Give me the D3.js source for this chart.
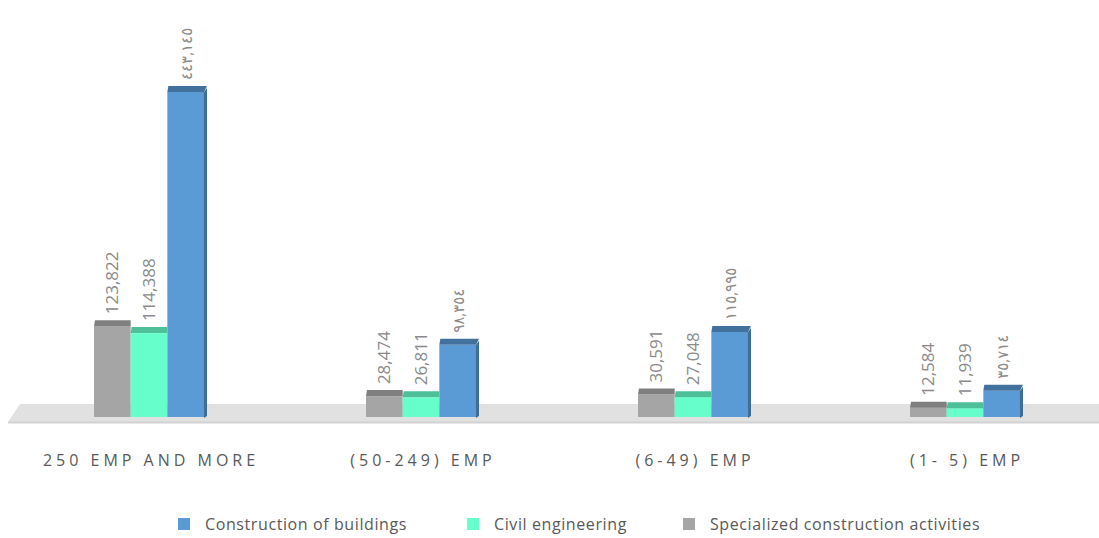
<!DOCTYPE html>
<html>
<head>
<meta charset="utf-8">
<script src="https://cdn.jsdelivr.net/npm/d3@7"></script>
<style>
  body { margin: 0; background: #fff; }
  svg { display: block; font-family: "Open Sans", "DejaVu Sans", sans-serif; }
</style>
</head>
<body>
<div id="chart"></div>
<script>
// chart data
const categories = ["250 EMP AND MORE", "(50-249) EMP", "(6-49) EMP", "(1- 5) EMP"];
const seriesNames = ["Specialized construction activities", "Civil engineering", "Construction of buildings"];
const specialized = [123822, 28474, 30591, 12584];
const civil = [114388, 26811, 27048, 11939];
const buildings = [443145, 98354, 115995, 35714];
const legendOrder = ["Construction of buildings", "Civil engineering", "Specialized construction activities"];

const colors = {
  "Construction of buildings": {front: "#5b9bd5", top: "#41719c", side: "#3d6d99"},
  "Civil engineering": {front: "#66ffcc", top: "#4dbf99", side: "#40a883"},
  "Specialized construction activities": {front: "#a5a5a5", top: "#7f7f7f", side: "#6e6e6e"}
};

const W = 1099, H = 538;
const svg = d3.select("#chart").append("svg").attr("width", W).attr("height", H);

const seriesValues = [specialized, civil, buildings];
const rows = categories.map((c, i) => ({
  cat: c,
  vals: seriesNames.map((s, j) => ({series: s, value: seriesValues[j][i]}))
}));

const x0 = d3.scaleBand().domain(categories).range([13, 1101]);
const x1 = d3.scaleBand().domain(seriesNames).range([0, 110]);
const y = d3.scaleLinear().domain([0, 443145]).range([417, 92]);

// arabic-indic digits for the buildings labels
const arabicDigits = "٠١٢٣٤٥٦٧٨٩";
function toArabic(n){
  return d3.format(",")(n).replace(/[0-9]/g, d => arabicDigits[+d]);
}

// floor
svg.append("polygon")
   .attr("points", [[20, 404], [W, 404], [W, 422], [8, 422]].join(" "))
   .attr("fill", "#e1e1e1");
svg.append("line")
   .attr("x1", 8).attr("x2", W).attr("y1", 422.5).attr("y2", 422.5)
   .attr("stroke", "#d2d2d2").attr("stroke-width", 2);

const depth = 6;
const groups = svg.selectAll("g.group").data(rows).join("g")
   .attr("class", "group")
   .attr("transform", d => `translate(${x0(d.cat) + x0.bandwidth() / 2 - 55},0)`);

groups.each(function(row){
  const g = d3.select(this);
  row.vals.forEach((v) => {
    const bx = x1(v.series), bw = x1.bandwidth();
    const top = y(v.value), base = y(0);
    const c = colors[v.series];
    const isBlue = v.series === "Construction of buildings";
    if(isBlue){
      // right side face
      g.append("polygon")
       .attr("points", [[bx + bw, top], [bx + bw + 3, top - depth + 2], [bx + bw + 3, base - 1], [bx + bw, base + 1]].join(" "))
       .attr("fill", c.side);
    }
    g.append("rect")
     .attr("x", bx).attr("y", top)
     .attr("width", bw).attr("height", base - top)
     .attr("fill", c.front);
    // top face
    g.append("polygon")
     .attr("points", [[bx, top], [bx + bw, top], [bx + bw + (isBlue ? 3 : 0), top - depth], [bx + 1, top - depth]].join(" "))
     .attr("fill", c.top);

    const label = isBlue ? toArabic(v.value) : d3.format(",")(v.value);
    const lx = bx + bw / 2 + 6;
    const ly = top - depth - 6;
    g.append("text")
     .attr("transform", `translate(${lx},${ly}) rotate(-90)`)
     .attr("fill", "#8a8a8a")
     .attr("font-size", isBlue ? 15 : 17)
     .attr("direction", "ltr")
     .text(label);
  });
});

// category labels
const catSpacing = 4;
svg.selectAll("text.cat").data(categories).join("text")
   .attr("class", "cat")
   .attr("x", d => x0(d) + x0.bandwidth() / 2 + catSpacing / 2)
   .attr("y", 466)
   .attr("text-anchor", "middle")
   .attr("fill", "#595959")
   .attr("font-size", 16)
   .attr("letter-spacing", catSpacing + "px")
   .text(d => d);

// legend
const legendX = [178, 467, 683];
const legend = svg.selectAll("g.legend").data(legendOrder).join("g")
   .attr("class", "legend")
   .attr("transform", (d, i) => `translate(${legendX[i]},518)`);
legend.append("rect")
   .attr("width", 12).attr("height", 12)
   .attr("fill", d => colors[d].front);
legend.append("text")
   .attr("x", 27).attr("y", 12)
   .attr("fill", "#595959")
   .attr("font-size", 16)
   .attr("letter-spacing", "0.6px")
   .text(d => d);
</script>
</body>
</html>
